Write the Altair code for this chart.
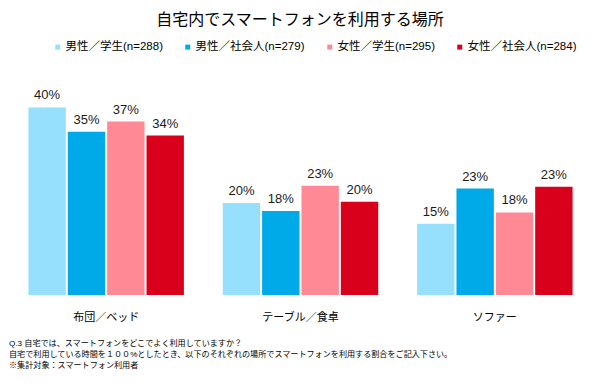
import altair as alt
import pandas as pd

title_text = "自宅内でスマートフォンを利用する場所"
places = ["布団／ベッド", "テーブル／食卓", "ソファー"]
groups = ["男性／学生(n=288)", "男性／社会人(n=279)", "女性／学生(n=295)", "女性／社会人(n=284)"]
colors = ["#97E0FD", "#00A9E8", "#FF8A95", "#D9001B"]
v_male_student = [40.0, 19.6, 15.2]
v_male_worker = [34.8, 17.9, 22.7]
v_female_student = [37.0, 23.3, 17.6]
v_female_worker = [34.0, 19.9, 23.1]
series_values = [v_male_student, v_male_worker, v_female_student, v_female_worker]
notes = [
    "Q.3  自宅では、スマートフォンをどこでよく利用していますか？",
    "自宅で利用している時間を１００%としたとき、以下のそれぞれの場所でスマートフォンを利用する割合をご記入下さい。",
    "※集計対象：スマートフォン利用者",
]

rows = []
for g, vals in zip(groups, series_values):
    for p, v in zip(places, vals):
        rows.append({"place": p, "group": g, "value": v})
df = pd.DataFrame(rows)

MIX = "Liberation Sans, Noto Sans CJK JP"

x_enc = alt.X("place:N", sort=places, title=None,
              scale=alt.Scale(paddingInner=0.2, paddingOuter=0.1),
              axis=alt.Axis(labelAngle=0, ticks=False, domain=False, grid=False,
                            labelFont=MIX, labelFontSize=11, labelColor="#000000",
                            labelPadding=16))
xo_enc = alt.XOffset("group:N", sort=groups, scale=alt.Scale(paddingInner=0.05))
y_enc = alt.Y("value:Q", scale=alt.Scale(domain=[0, 45]), axis=None)

base = alt.Chart(df)

bars = base.mark_bar().encode(
    x=x_enc, xOffset=xo_enc, y=y_enc,
    color=alt.Color("group:N", sort=groups,
                    scale=alt.Scale(domain=groups, range=colors),
                    legend=alt.Legend(title=None, orient="none", direction="horizontal",
                                      legendX=43, legendY=-43,
                                      symbolType="square", symbolSize=25,
                                      symbolStrokeWidth=0,
                                      labelFont=MIX, labelFontSize=11.5,
                                      labelColor="#000000", labelOffset=2,
                                      columnPadding=19, labelLimit=300)),
)

labels = base.transform_calculate(
    label="format(datum.value, '.0f') + '%'"
).mark_text(baseline="bottom", dy=-5, font="Liberation Sans", fontSize=13,
            color="#1a1a1a").encode(
    x=x_enc, xOffset=xo_enc, y=y_enc, text="label:N")

title = alt.Chart(pd.DataFrame({"t": [title_text]})).mark_text(
    font=MIX, fontSize=16, align="center", baseline="middle", color="#000000"
).encode(text="t:N", x=alt.value(291), y=alt.value(-64.5))

note_layers = []
for i, n in enumerate(notes):
    note_layers.append(
        alt.Chart(pd.DataFrame({"t": [n]})).mark_text(
            font=MIX, fontSize=8.1, align="left", baseline="middle", color="#000000"
        ).encode(text="t:N", x=alt.value(0), y=alt.value(260 + i * 11))
    )

chart = alt.layer(bars, labels, title, *note_layers).properties(
    width=583, height=211,
    padding={"left": 1, "top": 76, "right": 0, "bottom": 84},
    autosize=alt.AutoSizeParams(type="none"),
).configure_view(strokeWidth=0)

chart.save("out.html", embed_options={"renderer": "svg", "actions": False})
